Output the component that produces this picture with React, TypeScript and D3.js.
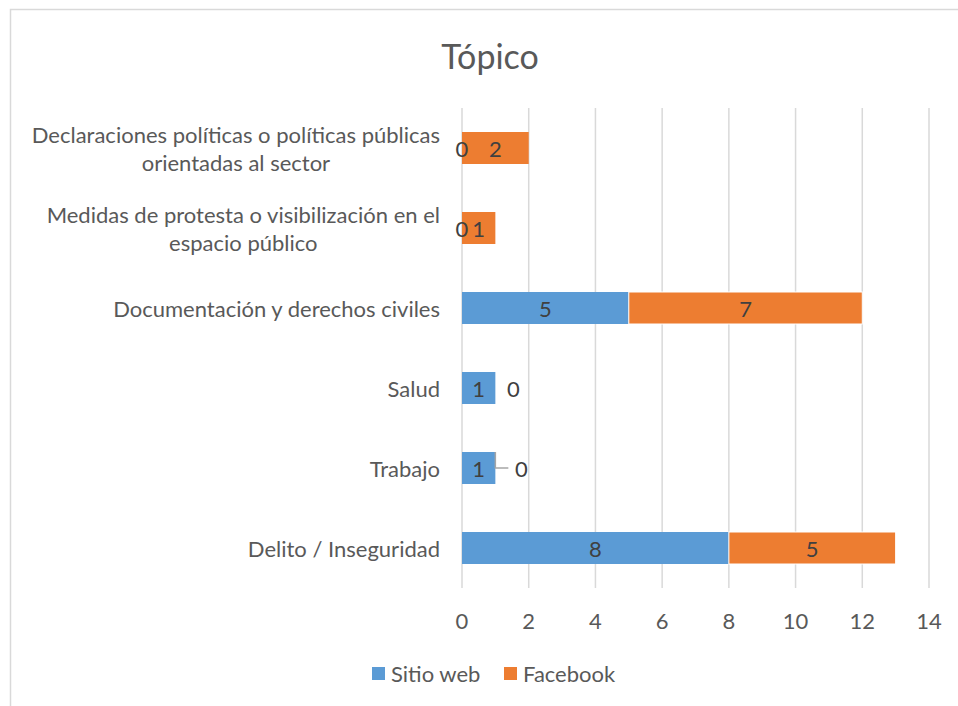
import React from 'react';
import * as d3 from 'd3';

const categories = [
  'Declaraciones políticas o políticas públicas|orientadas al sector',
  'Medidas de protesta o visibilización en el|espacio público',
  'Documentación y derechos civiles',
  'Salud',
  'Trabajo',
  'Delito / Inseguridad',
];
const sitioWeb = [0, 0, 5, 1, 1, 8];
const facebook = [2, 1, 7, 0, 0, 5];
const xTicks = [0, 2, 4, 6, 8, 10, 12, 14];

const W = 958;
const H = 706;
const font = 'Lato, Carlito, Calibri, sans-serif';
const blue = '#5b9bd5';
const orange = '#ed7d31';
const fs = 22;

function App() {
  const x = d3.scaleLinear().domain([0, 14]).range([462, 929]);
  const y = d3.scaleBand<number>()
    .domain(categories.map((_, i) => i))
    .range([108, 588])
    .paddingInner(0.6)
    .paddingOuter(0.3);
  const bw = y.bandwidth();

  return (
    <svg width={W} height={H} style={{ position: 'absolute', left: 0, top: 0, background: '#fff' }}
      fontFamily={font}>
      <rect x={10.5} y={9.5} width={W + 10} height={H + 10} fill="none" stroke="#d9d9d9" strokeWidth={1.5} />
      <text x={490} y={55} textAnchor="middle" dominantBaseline="central" fontSize={34} fill="#595959">Tópico</text>

      {xTicks.map(t => (
        <g key={t}>
          <line x1={x(t)} x2={x(t)} y1={108} y2={588} stroke="#d9d9d9" strokeWidth={1.5} />
          <text x={x(t)} y={620} textAnchor="middle" dominantBaseline="central" fontSize={fs} fill="#595959">{t}</text>
        </g>
      ))}

      {categories.map((c, i) => {
        const cy = y(i)! + bw / 2;
        const lines = c.split('|');
        const lh = 28;
        return (
          <g key={i}>
            {lines.map((l, j) => (
              <text key={j} x={440} y={cy + (j - (lines.length - 1) / 2) * lh}
                textAnchor={j === 0 ? 'end' : 'middle'}
                ref={el => {
                  // second line is centred under the right-aligned first line
                  if (el && j > 0) {
                    const first = el.parentNode?.querySelector('text') as SVGTextElement | null;
                    if (first) el.setAttribute('x', String(440 - first.getComputedTextLength() / 2));
                  }
                }}
                dominantBaseline="central" fontSize={fs} fill="#595959">{l}</text>
            ))}
          </g>
        );
      })}

      {categories.map((_, i) => {
        const y0 = y(i)!;
        const cy = y0 + bw / 2;
        const s = sitioWeb[i];
        const f = facebook[i];
        const fbLabelX = f === 0
          ? (i === 4 ? x(s) + 26 : x(s) + 18)
          : x(s + f / 2);
        return (
          <g key={i}>
            <rect x={x(0)} y={y0} width={x(s) - x(0)} height={bw} fill={blue} />
            <rect x={x(s)} y={y0} width={x(s + f) - x(s)} height={bw} fill={orange} stroke="#fff" strokeWidth={s > 0 && f > 0 ? 1 : 0} />
            <text x={x(s / 2)} y={cy} textAnchor="middle" dominantBaseline="central" fontSize={fs} fill="#404040">{s}</text>
            {i === 4 && (
              <polyline points={`${x(s)},${y0} ${x(s)},${cy} ${fbLabelX - 13},${cy}`} fill="none" stroke="#a6a6a6" strokeWidth={1.5} />
            )}
            <text x={fbLabelX} y={cy} textAnchor="middle" dominantBaseline="central" fontSize={fs} fill="#404040">{f}</text>
          </g>
        );
      })}

      <rect x={372} y={667} width={13} height={13} fill={blue} />
      <text x={391} y={673} dominantBaseline="central" fontSize={fs} fill="#595959">Sitio web</text>
      <rect x={504} y={667} width={13} height={13} fill={orange} />
      <text x={523} y={673} dominantBaseline="central" fontSize={fs} fill="#595959">Facebook</text>
    </svg>
  );
}

export default App;
